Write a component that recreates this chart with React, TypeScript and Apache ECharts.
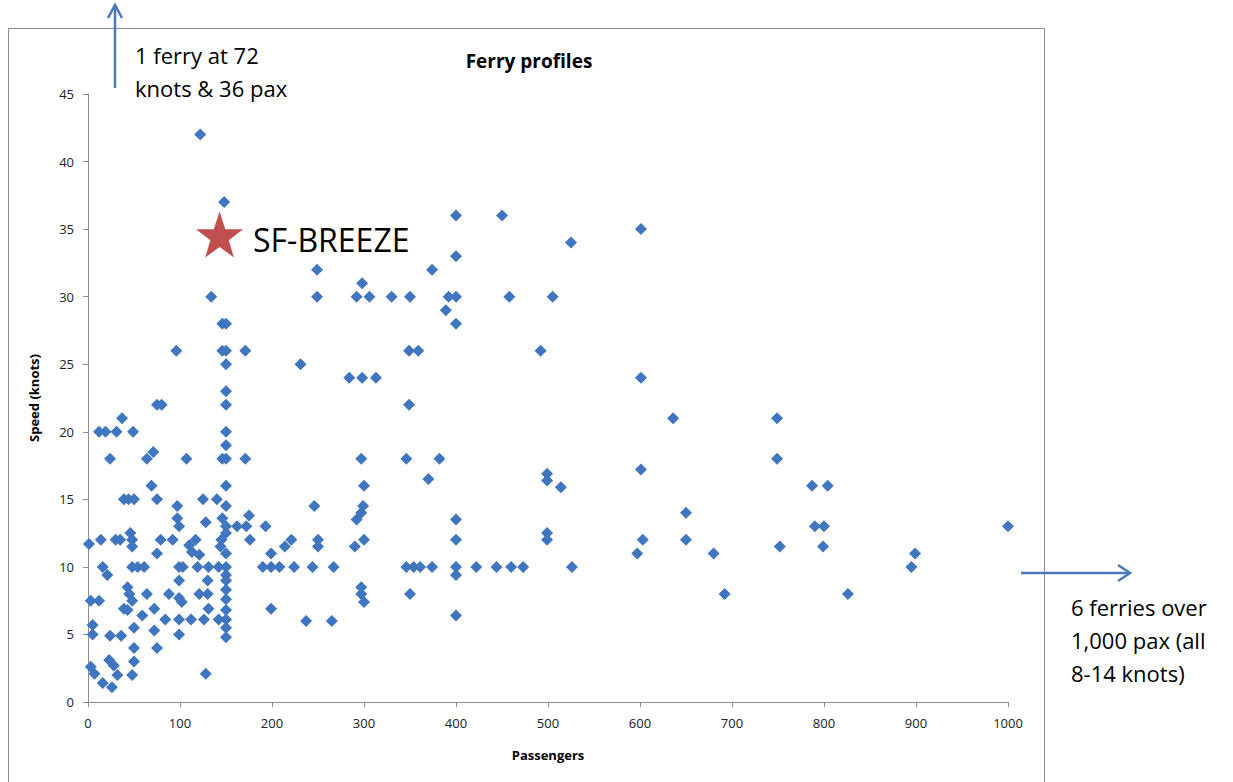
import React, { useEffect, useRef } from "react";
import * as echarts from "echarts";

// [passengers, speed in knots]
const ferriesUnder100: number[][] = [
  [1, 11.7], [3, 7.5], [12, 7.5], [5, 5.7], [5, 5.0], [3, 2.6], [7, 2.1], [16, 1.4],
  [12, 20], [19, 20], [31, 20], [49, 20], [37, 21], [24, 18], [64, 18], [71, 18.5],
  [69, 16], [75, 15], [39, 15], [44, 15], [50, 15], [97, 14.5], [97, 13.6], [99, 13],
  [14, 12], [30, 12], [35, 12], [46, 12.5], [48, 12], [48, 11.5], [79, 12], [92, 12],
  [75, 11], [16, 10], [21, 9.4], [48, 10], [54, 10], [61, 10], [99, 10], [99, 9],
  [43, 8.5], [45, 8], [48, 7.5], [39, 6.9], [43, 6.8], [64, 8], [59, 6.4], [72, 6.9],
  [88, 8], [99, 7.7], [84, 6.1], [99, 6.1], [24, 4.9], [36, 4.9], [50, 5.5], [72, 5.3],
  [99, 5], [50, 4], [50, 3], [48, 2], [75, 4], [23, 3.1], [28, 2.7], [32, 2], [26, 1.1],
  [75, 22], [80, 22], [96, 26],
];

const ferries100to200: number[][] = [
  [122, 42], [148, 37], [134, 30], [146, 28], [150, 28], [146, 26], [150, 26], [171, 26],
  [150, 25], [150, 23], [150, 22], [150, 20], [150, 19], [107, 18], [146, 18], [150, 18],
  [171, 18], [125, 15], [140, 15], [150, 16], [150, 14.5], [146, 13.6], [150, 13],
  [128, 13.3], [162, 13], [172, 13], [175, 13.8], [193, 13], [110, 11.6], [117, 12],
  [113, 11.1], [121, 10.9], [144, 11.5], [145, 12], [150, 12.5], [150, 11], [176, 12],
  [119, 10], [131, 10], [142, 10], [150, 10], [150, 9.4], [150, 9], [150, 8.3],
  [150, 7.6], [150, 6.8], [150, 6.1], [150, 5.5], [150, 4.8], [130, 9], [130, 8],
  [131, 6.9], [121, 8], [102, 7.4], [112, 6.1], [126, 6.1], [142, 6.1], [128, 2.1],
  [190, 10], [199, 10], [199, 11], [199, 6.9], [103, 10],
];

const ferries200to400: number[][] = [
  [208, 10], [224, 10], [244, 10], [267, 10], [214, 11.5], [221, 12], [250, 12],
  [250, 11.5], [246, 14.5], [231, 25], [249, 32], [249, 30], [298, 31], [292, 30],
  [306, 30], [330, 30], [350, 30], [284, 24], [298, 24], [313, 24], [297, 18], [300, 16],
  [299, 14.5], [297, 14], [292, 13.5], [300, 12], [290, 11.5], [297, 8.5], [297, 8],
  [300, 7.4], [237, 6], [265, 6], [346, 18], [349, 22], [349, 26], [359, 26], [346, 10],
  [354, 10], [361, 10], [374, 10], [350, 8], [370, 16.5], [382, 18], [374, 32], [389, 29],
  [392, 30],
];

const ferriesOver400: number[][] = [
  [400, 36], [450, 36], [601, 35], [525, 34], [400, 33], [400, 30], [458, 30], [505, 30],
  [400, 28], [492, 26], [601, 24], [636, 21], [499, 16.9], [499, 16.4], [514, 15.9],
  [601, 17.2], [650, 14], [400, 13.5], [400, 12], [499, 12.5], [499, 12], [603, 12],
  [650, 12], [597, 11], [400, 10], [400, 9.4], [422, 10], [444, 10], [460, 10], [473, 10],
  [526, 10], [400, 6.4], [749, 21], [749, 18], [787, 16], [804, 16], [680, 11], [692, 8],
  [752, 11.5], [790, 13], [800, 13], [799, 11.5], [826, 8], [899, 11], [895, 10], [1000, 13],
];

const sfBreeze: number[][] = [[143, 34.6]];

const chartTitle = "Ferry profiles";
const xAxisName = "Passengers";
const yAxisName = "Speed (knots)";
const topNote = "1 ferry at 72\nknots & 36 pax";
const rightNote = "6 ferries over\n1,000 pax (all\n8-14 knots)";

const FONT = "'Open Sans', 'Noto Sans', sans-serif";
const BLUE = "#3f76bf";
const ARROW = "#4a78bd";

export default function App() {
  const ref = useRef<HTMLDivElement>(null);
  useEffect(() => {
    if (!ref.current) return;
    const chart = echarts.init(ref.current, null, { renderer: "svg" });
    const allFerries = [...ferriesUnder100, ...ferries100to200, ...ferries200to400, ...ferriesOver400];
    chart.setOption({
      animation: false,
      backgroundColor: "#ffffff",
      title: {
        text: chartTitle,
        left: 524,
        top: 46,
        textAlign: "center",
        textStyle: { fontFamily: FONT, fontSize: 19, fontWeight: "bold", color: "#000" },
      },
      grid: { left: 88, top: 94, width: 920, height: 608 },
      xAxis: {
        type: "value",
        min: 0,
        max: 1000,
        interval: 100,
        name: xAxisName,
        nameLocation: "middle",
        nameGap: 46,
        nameTextStyle: { fontFamily: FONT, fontSize: 13, fontWeight: "bold", color: "#000" },
        axisLine: { lineStyle: { color: "#8c8c8c", width: 1 } },
        axisTick: { show: true, length: 5, lineStyle: { color: "#8c8c8c" } },
        axisLabel: {
          fontFamily: FONT,
          fontSize: 13,
          color: "#222",
          margin: 14,
          formatter: (v: number) => String(v),
        },
        splitLine: { show: false },
      },
      yAxis: {
        type: "value",
        min: 0,
        max: 45,
        interval: 5,
        name: yAxisName,
        nameLocation: "middle",
        nameGap: 48,
        nameTextStyle: { fontFamily: FONT, fontSize: 13, fontWeight: "bold", color: "#000" },
        axisLine: { show: true, lineStyle: { color: "#8c8c8c", width: 1 } },
        axisTick: { show: true, length: 5, lineStyle: { color: "#8c8c8c" } },
        axisLabel: { fontFamily: FONT, fontSize: 13, color: "#222", margin: 14 },
        splitLine: { show: false },
      },
      series: [
        {
          type: "scatter",
          data: allFerries,
          symbol: "diamond",
          symbolSize: 12,
          itemStyle: { color: BLUE, opacity: 1 },
        },
        {
          type: "scatter",
          data: sfBreeze,
          symbol:
            "path://M50,0 L61.8,35.1 L98.1,35.1 L68.8,56.7 L79.4,91 L50,70 L20.6,91 L31.2,56.7 L1.9,35.1 L38.2,35.1 Z",
          symbolSize: [47, 46],
          itemStyle: { color: "#c0504d", opacity: 1 },
          z: 5,
          label: {
            show: true,
            position: "right",
            distance: 10,
            offset: [0, 5],
            formatter: "SF-BREEZE",
            fontFamily: FONT,
            fontSize: 32,
            color: "#000",
          },
        },
      ],
      graphic: [
        {
          type: "rect",
          shape: { x: 8.5, y: 28.5, width: 1036, height: 760 },
          style: { fill: "none", stroke: "#8c8c8c", lineWidth: 1 },
          z: -1,
        },
        {
          type: "line",
          shape: { x1: 115, y1: 88, x2: 115, y2: 5 },
          style: { stroke: ARROW, lineWidth: 2.5 },
        },
        {
          type: "polyline",
          shape: { points: [[108, 18], [115, 5], [122, 18]] },
          style: { stroke: ARROW, lineWidth: 2.5, fill: "none" },
        },
        {
          type: "line",
          shape: { x1: 1021, y1: 573, x2: 1130, y2: 573 },
          style: { stroke: ARROW, lineWidth: 2.5 },
        },
        {
          type: "polyline",
          shape: { points: [[1118, 565], [1130, 573], [1118, 581]] },
          style: { stroke: ARROW, lineWidth: 2.5, fill: "none" },
        },
        {
          type: "text",
          x: 135,
          y: 38,
          style: {
            text: topNote,
            font: `22px ${FONT}`,
            fill: "#000",
            lineHeight: 33,
          },
        },
        {
          type: "text",
          x: 1071,
          y: 590,
          style: {
            text: rightNote,
            font: `22px ${FONT}`,
            fill: "#000",
            lineHeight: 33,
          },
        },
      ],
    });
    return () => chart.dispose();
  }, []);
  return (
    <div
      ref={ref}
      style={{ position: "fixed", left: 0, top: 0, width: 1233, height: 782, background: "#fff" }}
    />
  );
}
